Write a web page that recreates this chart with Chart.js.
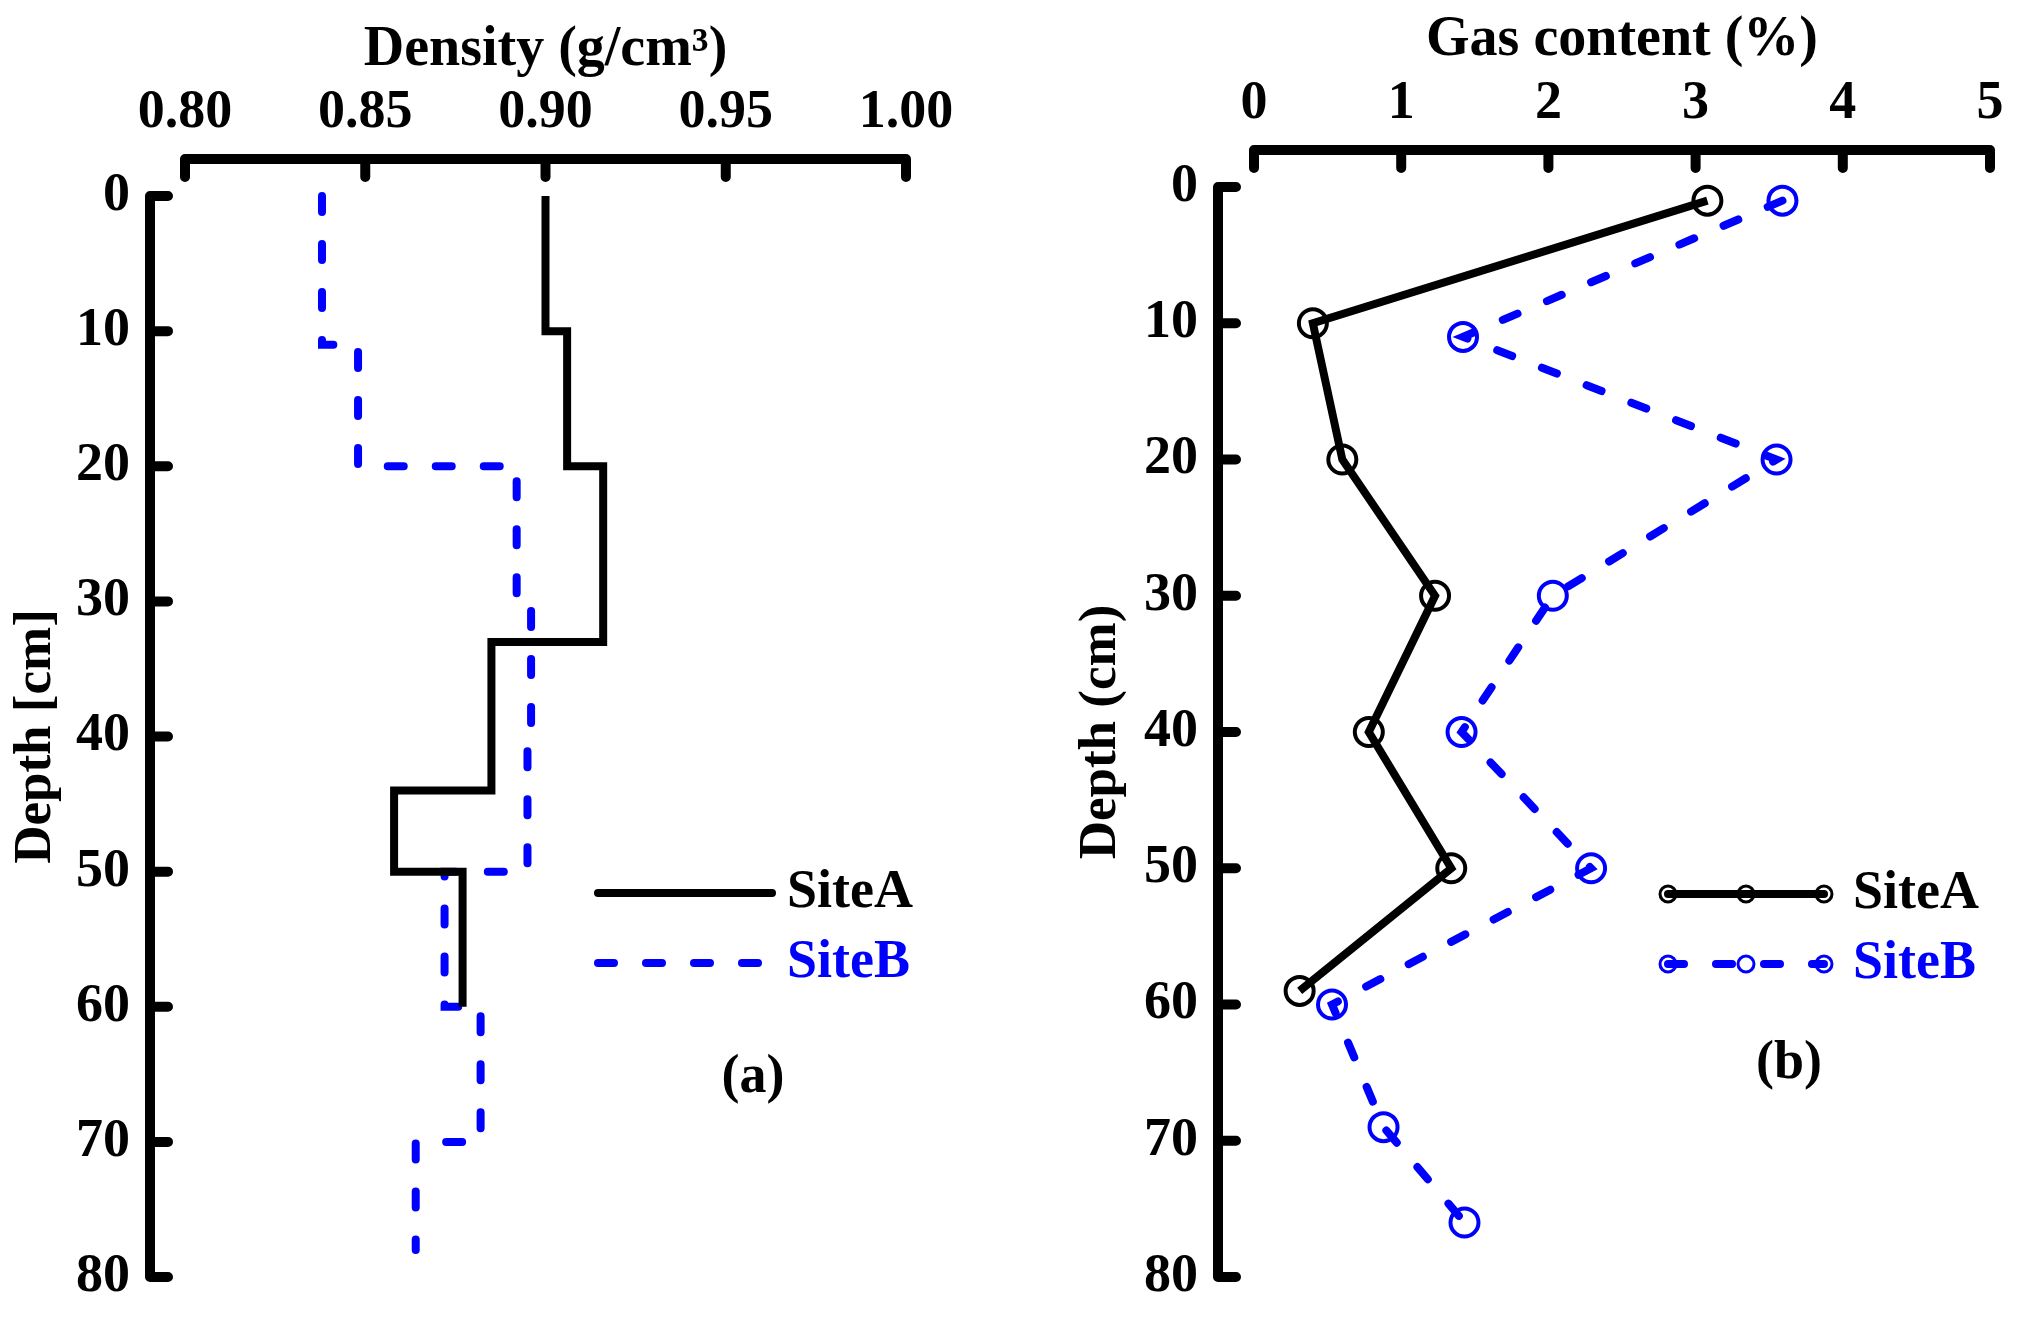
<!DOCTYPE html>
<html>
<head>
<meta charset="utf-8">
<script src="https://cdn.jsdelivr.net/npm/chart.js@4.4.1/dist/chart.umd.min.js"></script>
<style>
  html, body { margin: 0; padding: 0; background: #fff; overflow: hidden; }
  .panel { position: absolute; top: 0; width: 1016px; height: 1331px; }
  canvas { display: block; }
</style>
</head>
<body>
<div class="panel" style="left:0"><canvas id="densityChart" width="1016" height="1331" style="width:1016px;height:1331px"></canvas></div>
<div class="panel" style="left:1016px"><canvas id="gasChart" width="1016" height="1331" style="width:1016px;height:1331px"></canvas></div>
<script>
// (a) density profiles: depth where each layer starts, and its density
const densityDepthA = [0, 10, 20, 33, 44, 50, 60];
const densityA = [0.900, 0.906, 0.916, 0.885, 0.858, 0.877, 0.877];
const densityDepthB = [0, 11, 20, 30, 40, 50, 60, 70, 78];
const densityB = [0.838, 0.848, 0.892, 0.896, 0.895, 0.872, 0.882, 0.864, 0.864];

// (b) gas content at sampled depths
const gasDepthA = [1, 10, 20, 30, 40, 50, 59];
const gasA = [3.08, 0.40, 0.60, 1.23, 0.78, 1.34, 0.31];
const gasDepthB = [1, 11, 20, 30, 40, 50, 60, 69, 76];
const gasB = [3.59, 1.42, 3.55, 2.03, 1.41, 2.29, 0.53, 0.88, 1.43];

const densityTicks = [0.80, 0.85, 0.90, 0.95, 1.00];
const gasTicks = [0, 1, 2, 3, 4, 5];
const depthTicks = [0, 10, 20, 30, 40, 50, 60, 70, 80];

const FONT = "'Liberation Serif', 'Times New Roman', serif";
const BLUE = '#0000ff';

Chart.defaults.font.family = FONT;
Chart.defaults.font.weight = 'bold';
Chart.defaults.color = '#000';

const toPoints = (xs, ys) => xs.map((v, i) => ({ x: v, y: ys[i] }));

// Origin-style axes: detached from the plot box, ticks pointing inward,
// plus the in-plot legend and panel label
const panelExtras = {
  id: 'panelExtras',
  afterDraw(chart, args, opts) {
    const { ctx, chartArea: area } = chart;
    const { x, y } = chart.scales;
    const axisY = area.top - opts.xGap;
    const axisX = area.left - opts.yGap;

    ctx.save();
    ctx.strokeStyle = '#000';
    ctx.lineWidth = 10;
    ctx.lineCap = 'round';
    ctx.beginPath();
    ctx.moveTo(x.getPixelForValue(x.min), axisY);
    ctx.lineTo(x.getPixelForValue(x.max), axisY);
    x.ticks.forEach(t => {
      const px = x.getPixelForValue(t.value);
      ctx.moveTo(px, axisY);
      ctx.lineTo(px, axisY + 18);
    });
    ctx.moveTo(axisX, y.getPixelForValue(y.min));
    ctx.lineTo(axisX, y.getPixelForValue(y.max));
    y.ticks.forEach(t => {
      const py = y.getPixelForValue(t.value);
      ctx.moveTo(axisX, py);
      ctx.lineTo(axisX + 18, py);
    });
    ctx.stroke();

    // legend
    const lg = opts.legend;
    chart.data.datasets.forEach((ds, i) => {
      const ly = lg.y + i * lg.dy;
      ctx.strokeStyle = ds.borderColor;
      ctx.lineWidth = ds.borderWidth;
      ctx.lineCap = 'round';
      ctx.setLineDash(ds.borderDash || []);
      ctx.beginPath();
      ctx.moveTo(lg.x1, ly);
      ctx.lineTo(lg.x2, ly);
      ctx.stroke();
      ctx.setLineDash([]);
      if (lg.markers) {
        ctx.lineWidth = 3;
        [lg.x1, (lg.x1 + lg.x2) / 2, lg.x2].forEach(mx => {
          ctx.beginPath();
          ctx.arc(mx, ly, 8, 0, Math.PI * 2);
          ctx.stroke();
        });
      }
      ctx.fillStyle = ds.borderColor;
      ctx.font = 'bold 54px ' + FONT;
      ctx.textAlign = 'left';
      ctx.textBaseline = 'middle';
      ctx.fillText(ds.label, lg.textX, ly);
    });

    ctx.fillStyle = '#000';
    ctx.font = 'bold 54px ' + FONT;
    ctx.textAlign = 'center';
    ctx.fillText(opts.tag.text, opts.tag.x, opts.tag.y);
    ctx.restore();
  }
};

function axisScales(cfg) {
  return {
    x: {
      type: 'linear',
      position: 'top',
      min: cfg.xTicks[0],
      max: cfg.xTicks[cfg.xTicks.length - 1],
      afterBuildTicks: s => { s.ticks = cfg.xTicks.map(v => ({ value: v })); },
      // fixed box size; drop the label overhang so layout padding is exact
      afterFit: s => { s.height = cfg.top; s.paddingLeft = 0; s.paddingRight = 0; },
      grid: { display: false, drawTicks: false },
      border: { display: false },
      ticks: {
        padding: cfg.xPad,
        font: { size: 54, weight: 'bold' },
        callback: cfg.xFormat
      },
      title: {
        display: true,
        text: cfg.xTitle,
        font: { size: 56, weight: 'bold' },
        padding: { top: cfg.xTitlePad, bottom: 0 }
      }
    },
    y: {
      type: 'linear',
      reverse: true,
      min: 0,
      max: 80,
      afterBuildTicks: s => { s.ticks = depthTicks.map(v => ({ value: v })); },
      afterFit: s => { s.width = cfg.left; s.paddingTop = 0; s.paddingBottom = 0; },
      grid: { display: false, drawTicks: false },
      border: { display: false },
      ticks: {
        padding: cfg.yPad,
        font: { size: 54, weight: 'bold' }
      },
      title: {
        display: true,
        text: cfg.yTitle,
        font: { size: 53, weight: 'bold' },
        padding: { top: cfg.yTitlePad, bottom: 0 }
      }
    }
  };
}

new Chart(document.getElementById('densityChart'), {
  type: 'scatter',
  data: {
    datasets: [{
      label: 'SiteA',
      data: toPoints(densityA, densityDepthA),
      showLine: true,
      stepped: 'after',
      borderColor: '#000',
      borderWidth: 8,
      pointRadius: 0,
      clip: false
    }, {
      label: 'SiteB',
      data: toPoints(densityB, densityDepthB),
      showLine: true,
      stepped: 'after',
      borderColor: BLUE,
      borderWidth: 8,
      borderDash: [16, 32],
      borderCapStyle: 'round',
      pointRadius: 0,
      clip: false
    }]
  },
  options: {
    responsive: false,
    animation: false,
    devicePixelRatio: 1,
    layout: { padding: { left: 0, top: 0, right: 110, bottom: 54 } },
    scales: axisScales({
      xTicks: densityTicks,
      xFormat: v => v.toFixed(2),
      xTitle: 'Density (g/cm\u00B3)',
      yTitle: 'Depth [cm]',
      top: 196, left: 185,
      xPad: 51, yPad: 55,
      xTitlePad: 17, yTitlePad: 5
    }),
    plugins: {
      legend: { display: false },
      tooltip: { enabled: false },
      panelExtras: {
        xGap: 37, yGap: 35,
        legend: { x1: 598, x2: 772, y: 893, dy: 70, textX: 787, markers: false },
        tag: { text: '(a)', x: 753, y: 1078 }
      }
    }
  },
  plugins: [panelExtras]
});

new Chart(document.getElementById('gasChart'), {
  type: 'scatter',
  data: {
    datasets: [{
      label: 'SiteA',
      data: toPoints(gasA, gasDepthA),
      showLine: true,
      borderColor: '#000',
      borderWidth: 8,
      pointRadius: 14,
      pointBorderWidth: 4,
      pointBackgroundColor: 'rgba(0,0,0,0)',
      pointBorderColor: '#000',
      clip: false
    }, {
      label: 'SiteB',
      data: toPoints(gasB, gasDepthB),
      showLine: true,
      borderColor: BLUE,
      borderWidth: 8,
      borderDash: [16, 32],
      borderCapStyle: 'round',
      pointRadius: 14,
      pointBorderWidth: 4,
      pointBackgroundColor: 'rgba(0,0,0,0)',
      pointBorderColor: BLUE,
      clip: false
    }]
  },
  options: {
    responsive: false,
    animation: false,
    devicePixelRatio: 1,
    layout: { padding: { left: 0, top: 0, right: 42, bottom: 54 } },
    scales: axisScales({
      xTicks: gasTicks,
      xFormat: v => String(v),
      xTitle: 'Gas content (%)',
      yTitle: 'Depth (cm)',
      top: 187, left: 238,
      xPad: 51, yPad: 56,
      xTitlePad: 7, yTitlePad: 54
    }),
    plugins: {
      legend: { display: false },
      tooltip: { enabled: false },
      panelExtras: {
        xGap: 37, yGap: 36,
        legend: { x1: 652, x2: 808, y: 894, dy: 70, textX: 837, markers: true },
        tag: { text: '(b)', x: 773, y: 1064 }
      }
    }
  },
  plugins: [panelExtras]
});
</script>
</body>
</html>
